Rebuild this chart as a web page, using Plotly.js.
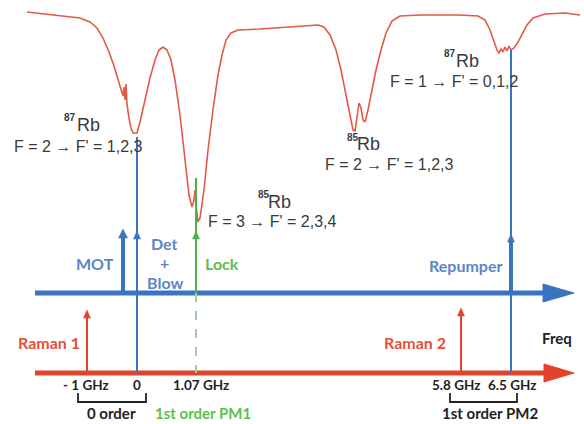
<!DOCTYPE html>
<html><head><meta charset="utf-8">
<script src="https://cdn.plot.ly/plotly-3.0.1.min.js"></script>
<style>html,body{margin:0;padding:0;background:#fff}#c{width:584px;height:424px}</style>
</head><body><div id="c"></div>
<script>
// Saturated-absorption spectrum (diagram units)
const specX = [27,45,65,80,90,97,103,109,114,118,121,123,124,125,126,127,129,131,133,137,140,145,150,155,159,163,167,171,175,180,185,189,192,194,195,196,198,200,204,208,213,218,222,226,231,238,260,290,318,324,330,336,341,346,350,353,355,357,359,361,363,365,368,372,376,381,386,392,400,420,460,478,485,490,494,497,499,501,503,505,507,509,511,514,518,522,527,533,545,565,580];
const specY = [12,14,16,18,22,28,38,52,66,80,90,96,87,100,84,104,118,128,133,133,122,100,78,60,50,47,50,60,80,115,160,195,207,200,190,205,222,218,190,150,110,75,55,40,33,30,29,27,25,27,35,50,70,95,115,130,131,118,103,108,120,122,110,90,70,50,33,21,16,15,15,16,20,30,42,50,53,49,52,47,51,46,50,48,42,35,25,18,14,13,15];

// Frequency axes
const axisNames = ["cooling", "raman"];
const axisY = [293, 373];
const axisX0 = [35, 35];
const axisX1 = [545, 546];
const axisColor = ["#3a74c1", "#e2432c"];

// Laser lines
const laserNames = ["MOT", "Det + Blow", "Lock", "Repumper", "Raman 1", "Raman 2"];
const laserX = [123, 137, 196, 511, 87, 461];
const laserBase = [293, 373, 373, 373, 373, 373];
const laserHead = [229, 231, 231, 234, 310, 308];
const laserTop = [229, 133, 178, 50, 310, 308];
const laserColor = ["#3a74c1", "#3a74c1", "#4caf50", "#3a74c1", "#e2432c", "#e2432c"];
const laserWidth = [4, 2, 2, 2, 2, 2];

// Transition labels
const isotopes = ["87", "85", "85", "87"];
const transitions = ["F = 2 \u2192 F' = 1,2,3", "F = 3 \u2192 F' = 2,3,4", "F = 2 \u2192 F' = 1,2,3", "F = 1 \u2192 F' = 0,1,2"];

// Tick labels
const tickLabels = ["- 1 GHz", "0", "1.07 GHz", "5.8 GHz", "6.5 GHz"];
const tickX = [86, 137, 201, 456, 512];

// Order brackets
const bracketNames = ["0 order", "1st order PM2"];
const bracketX0 = [78, 450];
const bracketX1 = [146, 517];

const traces = [];
traces.push({x: specX, y: specY, mode: "lines", line: {color: "#e35a45", width: 1.6}, hoverinfo: "skip"});

for (let i = 0; i < axisNames.length; i++) {
  traces.push({x: [axisX0[i], axisX1[i]], y: [axisY[i], axisY[i]], mode: "lines",
    line: {color: axisColor[i], width: 5}, hoverinfo: "skip"});
  traces.push({x: [axisX1[i] - 2, 574, axisX1[i] - 2, axisX1[i] - 2],
    y: [axisY[i] - 9, axisY[i], axisY[i] + 9, axisY[i] - 9], mode: "lines", fill: "toself",
    fillcolor: axisColor[i], line: {color: axisColor[i], width: 1}, hoverinfo: "skip"});
}

for (let i = 0; i < laserNames.length; i++) {
  const hw = laserWidth[i] > 2 ? 4.5 : 3.5, hh = laserWidth[i] > 2 ? 9 : 8;
  if (laserNames[i] === "Lock") {
    traces.push({x: [laserX[i], laserX[i]], y: [laserTop[i], axisY[0]], mode: "lines",
      line: {color: laserColor[i], width: 2}, hoverinfo: "skip"});
    traces.push({x: [laserX[i], laserX[i]], y: [axisY[0], laserBase[i]], mode: "lines",
      line: {color: "#9ad29a", width: 2, dash: "dash"}, hoverinfo: "skip"});
  } else if (laserNames[i] === "Repumper") {
    traces.push({x: [laserX[i], laserX[i]], y: [laserTop[i], laserBase[i]], mode: "lines",
      line: {color: laserColor[i], width: 2}, hoverinfo: "skip"});
    traces.push({x: [laserX[i], laserX[i]], y: [laserHead[i] + 4, axisY[0]], mode: "lines",
      line: {color: laserColor[i], width: 4}, hoverinfo: "skip"});
  } else {
    traces.push({x: [laserX[i], laserX[i]], y: [laserTop[i] + 4, laserBase[i]], mode: "lines",
      line: {color: laserColor[i], width: laserWidth[i]}, hoverinfo: "skip"});
  }
  traces.push({x: [laserX[i] - hw, laserX[i], laserX[i] + hw, laserX[i] - hw],
    y: [laserHead[i] + hh, laserHead[i], laserHead[i] + hh, laserHead[i] + hh],
    mode: "lines", fill: "toself", fillcolor: laserColor[i],
    line: {color: laserColor[i], width: 0.5}, hoverinfo: "skip"});
}

for (let i = 0; i < bracketNames.length; i++) {
  traces.push({x: [bracketX0[i], bracketX0[i], bracketX1[i], bracketX1[i]], y: [393, 402, 402, 393],
    mode: "lines", line: {color: "#222", width: 1.8}, hoverinfo: "skip"});
}

const ann = [];
const grey = {family: "Liberation Sans, Arial, sans-serif", size: 16, color: "#3a3a3a"};
const rbFont = {family: "Liberation Sans, Arial, sans-serif", size: 18, color: "#3a3a3a"};
const supFont = {family: "Liberation Sans, Arial, sans-serif", size: 10, color: "#3a3a3a", weight: "bold"};
function txt(t, x, y, font, anchor) {
  ann.push({text: t, x: x, y: y, xref: "x", yref: "y", showarrow: false,
    xanchor: anchor || "left", yanchor: "middle", font: font});
}
const supPos = [[70, 117], [264, 194], [353, 137], [450, 53]];
const rbPos = [[75, 125], [266, 202], [355, 144], [454, 61]];
const trPos = [[12, 146], [206, 221], [323, 164], [388, 81]];
for (let i = 0; i < isotopes.length; i++) {
  txt(isotopes[i], supPos[i][0], supPos[i][1], supFont, "center");
  txt("Rb", rbPos[i][0], rbPos[i][1], rbFont);
  txt(transitions[i], trPos[i][0], trPos[i][1], grey);
}

const lato = "Lato, Open Sans, sans-serif";
const blueT = {family: lato, size: 16, color: "#5b86c6", weight: "bold"};
const greenT = {family: lato, size: 16, color: "#5cbf4a", weight: "bold"};
const redT = {family: lato, size: 16, color: "#e5503a", weight: "bold"};
const blackT = {family: lato, size: 15, color: "#222", weight: "bold"};
const tickT = {family: lato, size: 13.5, color: "#222", weight: "bold"};

txt("MOT", 95, 263, blueT, "center");
txt("Det", 164, 243, blueT, "center");
txt("+", 164, 262, blueT, "center");
txt("Blow", 165, 282, blueT, "center");
txt("Lock", 222, 263, greenT, "center");
txt("Repumper", 465, 265, blueT, "center");
txt("Raman 1", 49, 342, redT, "center");
txt("Raman 2", 415, 342, redT, "center");
txt("Freq", 557, 338, blackT, "center");
for (let i = 0; i < tickLabels.length; i++) txt(tickLabels[i], tickX[i], 385, tickT, "center");
txt("0 order", 111, 413, blackT, "center");
txt("1st order PM1", 203, 413, Object.assign({}, greenT, {size: 15}), "center");
txt("1st order PM2", 490, 413, blackT, "center");

const layout = {
  width: 584, height: 424, margin: {l: 0, r: 0, t: 0, b: 0},
  paper_bgcolor: "#fff", plot_bgcolor: "#fff", showlegend: false,
  xaxis: {range: [0, 584], visible: false, fixedrange: true},
  yaxis: {range: [424, 0], visible: false, fixedrange: true},
  annotations: ann
};
Plotly.newPlot("c", traces, layout, {displayModeBar: false, staticPlot: true});
</script></body></html>
